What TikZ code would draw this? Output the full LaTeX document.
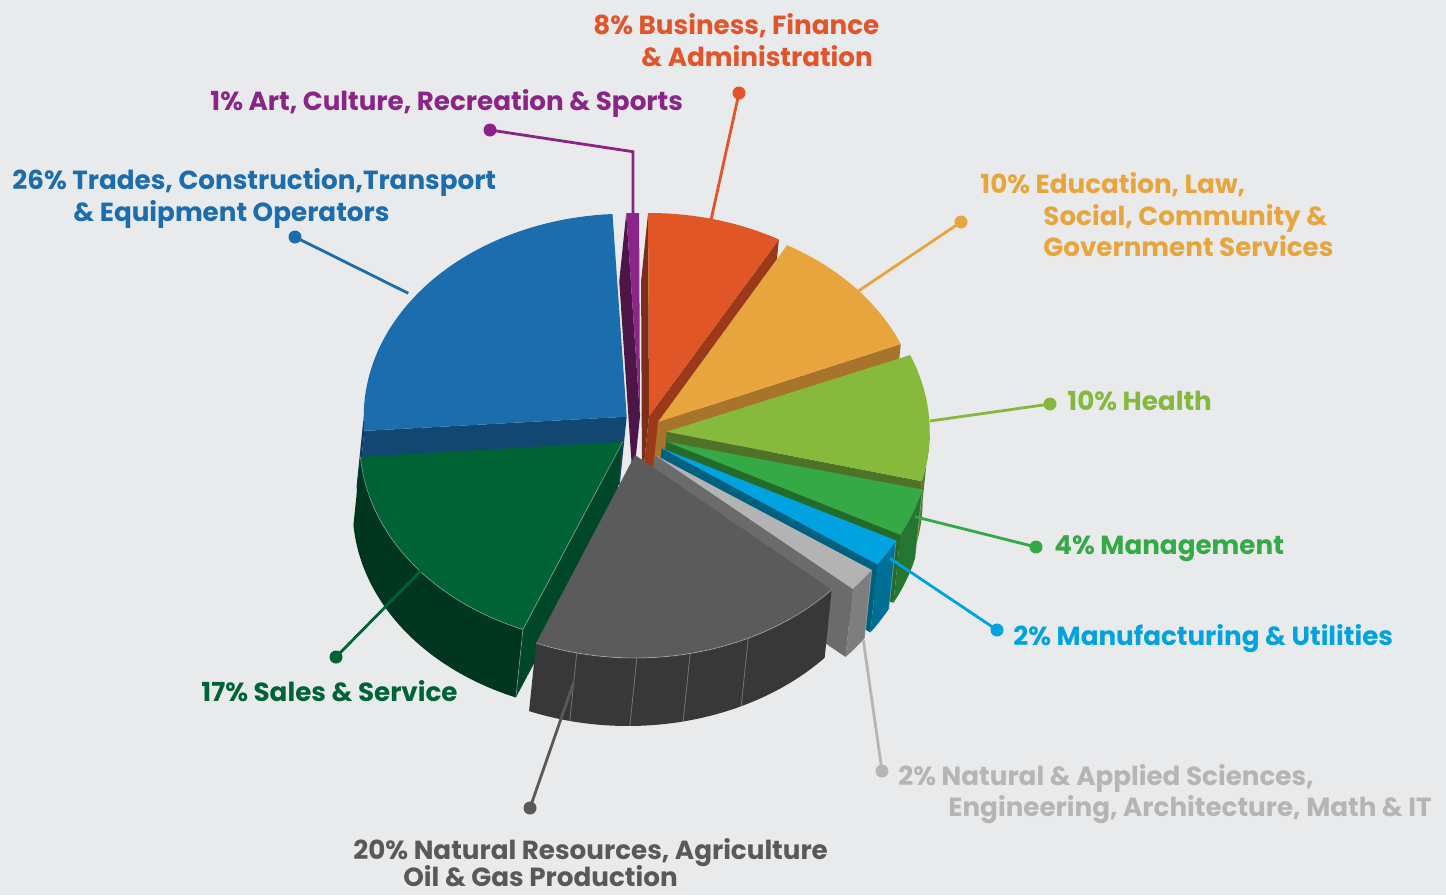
\documentclass[tikz,border=0pt]{standalone}
\usepackage{fontspec}
\setmainfont{Poppins}
\definecolor{bg}{HTML}{E9EAEC}
\definecolor{orT}{HTML}{E15627}\definecolor{orA}{HTML}{7B2F16}\definecolor{orB}{HTML}{9A3A1B}
\definecolor{puT}{HTML}{8C2589}\definecolor{puA}{HTML}{4E1549}
\definecolor{blT}{HTML}{1C6DAE}\definecolor{blA}{HTML}{134772}\definecolor{blS}{HTML}{0F3B60}
\definecolor{yeT}{HTML}{E9A53D}\definecolor{yeB}{HTML}{A8742C}
\definecolor{lgT}{HTML}{87B93D}\definecolor{lgB}{HTML}{4F7326}\definecolor{lgS}{HTML}{557A27}
\definecolor{grT}{HTML}{36A947}\definecolor{grB}{HTML}{236B2A}\definecolor{grS}{HTML}{267530}
\definecolor{cyT}{HTML}{00A3E0}\definecolor{cyB}{HTML}{00607F}\definecolor{cyS}{HTML}{006F96}
\definecolor{lyT}{HTML}{B3B3B3}\definecolor{lyB}{HTML}{6B6B6B}\definecolor{lyS}{HTML}{7E7E7E}
\definecolor{gyT}{HTML}{5B5B5B}\definecolor{gyS}{HTML}{383838}
\definecolor{dgT}{HTML}{006335}\definecolor{dgA}{HTML}{00472A}\definecolor{dgS}{HTML}{00361F}
\definecolor{txOr}{HTML}{E2552A}\definecolor{txPu}{HTML}{8B2487}\definecolor{txBl}{HTML}{1C6DAE}
\definecolor{txYe}{HTML}{E9A53D}\definecolor{txLg}{HTML}{86B83F}\definecolor{txGr}{HTML}{36A947}
\definecolor{txCy}{HTML}{00A3E0}\definecolor{txLy}{HTML}{B5B5B5}\definecolor{txGy}{HTML}{595959}
\definecolor{txDg}{HTML}{006335}
% apex x, apex y, angle from, angle to, colour
\newcommand{\TopFace}[5]{\fill[#5] (#1,#2) -- plot[domain=#3:#4,samples=50] ({#1+263*cos(\x)},{#2-203*sin(\x)}) -- cycle;}
\newcommand{\OuterSide}[5]{\fill[#5] plot[domain=#3:#4,samples=50] ({#1+263*cos(\x)},{#2-203*sin(\x)}) -- plot[domain=#4:#3,samples=50] ({#1-7+263*cos(\x)},{#2+68-203*sin(\x)}) -- cycle;}
% apex x, apex y, angle, colour
\newcommand{\RadFace}[4]{\fill[#4] (#1,#2) -- ({#1+263*cos(#3)},{#2-203*sin(#3)}) -- ({#1-7+263*cos(#3)},{#2+68-203*sin(#3)}) -- ({#1-7},{#2+68}) -- cycle;}
\tikzset{
  lbl/.style={font=\bfseries\fontsize{13.1}{16}\selectfont, inner sep=0pt, anchor=base west},
  conn/.style={line width=1.4pt},
  dot/.style={circle, fill=#1, inner sep=0pt, minimum size=6.5pt},
  seam/.style={white, opacity=0.3, line width=0.4pt},
  hl/.style={white, opacity=0.35, line width=0.4pt}
}
\begin{document}
\begin{tikzpicture}[x=0.5pt,y=-0.5pt]
\useasboundingbox (0,0) rectangle (1446,895);
\fill[bg] (0,0) rectangle (1446,895);
% ---- orange 8%
\RadFace{649}{416}{90.2}{orA}
\RadFace{649}{416}{60.4}{orB}
\TopFace{649}{416}{60.4}{90.2}{orT}
% ---- purple 1%
\RadFace{640}{416}{93}{puA}
\TopFace{640}{416}{90.2}{93}{puT}
% ---- blue 26%
\OuterSide{626.7}{416.7}{180}{184}{blS}
\RadFace{626.7}{416.7}{184}{blA}
\TopFace{626.7}{416.7}{93.1}{184}{blT}
% ---- yellow 10%
\RadFace{658}{422}{22.6}{yeB}
\TopFace{658}{422}{22.6}{60.6}{yeT}
% ---- light green 10%
\OuterSide{666.7}{431.7}{-14.1}{0}{lgS}
\RadFace{666.7}{431.7}{-14.1}{lgB}
\TopFace{666.7}{431.7}{-14.1}{22.2}{lgT}
% ---- green 4%
\OuterSide{666.7}{441.7}{-27.3}{-13.6}{grS}
\RadFace{666.7}{441.7}{-27.3}{grB}
\TopFace{666.7}{441.7}{-27.3}{-13.6}{grT}
% ---- cyan 2%
\OuterSide{661.7}{448.3}{-34.9}{-27}{cyS}
\RadFace{661.7}{448.3}{-34.9}{cyB}
\TopFace{661.7}{448.3}{-34.9}{-27}{cyT}
% ---- light grey 2%
\OuterSide{655}{455}{-41.3}{-34.5}{lyS}
\RadFace{655}{455}{-41.3}{lyB}
\TopFace{655}{455}{-41.3}{-34.5}{lyT}
\draw[seam] ({655+263*cos(-34.5)},{455-203*sin(-34.5)}) -- ++(-7,68);
\draw[seam] ({661.7+263*cos(-27)},{448.3-203*sin(-27)}) -- ++(-7,68);
\draw[seam] ({666.7+263*cos(-13.6)},{441.7-203*sin(-13.6)}) -- ++(-7,68);
% ---- dark green 17%
\OuterSide{622.7}{441.7}{-175.7}{-112.3}{dgS}
\RadFace{622.7}{441.7}{-112.3}{dgA}
\TopFace{622.7}{441.7}{-175.7}{-112.3}{dgT}
\draw[hl] plot[domain=-175.7:-112.3,samples=50] ({622.7+263*cos(\x)},{441.7-203*sin(\x)}) -- (622.7,441.7);
\draw[seam] ({622.7+263*cos(-112.3)},{441.7-203*sin(-112.3)}) -- ++(-7,68);
% ---- grey 20%
\OuterSide{635}{455}{-112.1}{-41.6}{gyS}
\TopFace{635}{455}{-112.1}{-41.6}{gyT}
\draw[hl] plot[domain=-112.1:-41.6,samples=50] ({635+263*cos(\x)},{455-203*sin(\x)});
\foreach \a in {-102.8,-89.6,-77.9,-64.5}
  \draw[seam] ({635+263*cos(\a)},{455-203*sin(\a)}) -- ++(-7,68);
% ---- connector end points on the pie
\coordinate (pOr) at (711,220);
\coordinate (bPu) at (633,151.7);
\coordinate (pPu) at (633,213);
\coordinate (pBl) at (408.3,293.3);
\coordinate (pYe) at (855,293.3);
\coordinate (pLg) at (930,421);
\coordinate (pGr) at (915,516.7);
\coordinate (pCy) at (890,558.3);
\coordinate (pLy) at (863.3,640);
\coordinate (pGy) at (573.3,683.3);
\coordinate (pDg) at (423.3,568.3);
% ---- dots
\node[dot=txOr] (dOr) at (739,93) {};
\node[dot=txPu] (dPu) at (490,130) {};
\node[dot=txBl] (dBl) at (295,237) {};
\node[dot=txYe] (dYe) at (961,222) {};
\node[dot=txLg] (dLg) at (1050,404) {};
\node[dot=txGr] (dGr) at (1036,547) {};
\node[dot=txCy] (dCy) at (997,630) {};
\node[dot=txLy] (dLy) at (882,771) {};
\node[dot=txGy] (dGy) at (530,808) {};
\node[dot=txDg] (dDg) at (336,657) {};
% ---- connectors
\draw[conn, txOr] (dOr.center) -- (pOr);
\draw[conn, txPu] (dPu.center) -- (bPu) -- (pPu);
\draw[conn, txBl] (dBl.center) -- (pBl);
\draw[conn, txYe] (dYe.center) -- (pYe);
\draw[conn, txLg] (dLg.center) -- (pLg);
\draw[conn, txGr] (dGr.center) -- (pGr);
\draw[conn, txCy] (dCy.center) -- (pCy);
\draw[conn, txLy] (dLy.center) -- (pLy);
\draw[conn, txGy] (dGy.center) -- (pGy);
\draw[conn, txDg] (dDg.center) -- (pDg);
% ---- labels
\node[lbl, text=txOr] (lOr1) at (593,34.5) {8\% Business, Finance};
\node[lbl, text=txOr] (lOr2) at (641,66.5) {\& Administration};
\node[lbl, text=txPu] (lPu) at (210,110.5) {1\% Art, Culture, Recreation \& Sports};
\node[lbl, text=txBl] (lBl1) at (12,189.5) {26\% Trades, Construction,Transport};
\node[lbl, text=txBl] (lBl2) at (73,221.5) {\& Equipment Operators};
\node[lbl, text=txYe] (lYe1) at (980,193.5) {10\% Education, Law,};
\node[lbl, text=txYe] (lYe2) at (1043,225) {Social, Community \&};
\node[lbl, text=txYe] (lYe3) at (1043,256.5) {Government Services};
\node[lbl, text=txLg] (lLg) at (1067,410.5) {10\% Health};
\node[lbl, text=txGr] (lGr) at (1054,554.5) {4\% Management};
\node[lbl, text=txCy] (lCy) at (1013,645.5) {2\% Manufacturing \& Utilities};
\node[lbl, text=txDg] (lDg) at (201,701.5) {17\% Sales \& Service};
\node[lbl, text=txLy] (lLy1) at (898,785.5) {2\% Natural \& Applied Sciences,};
\node[lbl, text=txLy] (lLy2) at (948,816.5) {Engineering, Architecture, Math \& IT};
\node[lbl, text=txGy] (lGy1) at (353,859) {20\% Natural Resources, Agriculture};
\node[lbl, text=txGy] (lGy2) at (403,886) {Oil \& Gas Production};
\end{tikzpicture}
\end{document}
